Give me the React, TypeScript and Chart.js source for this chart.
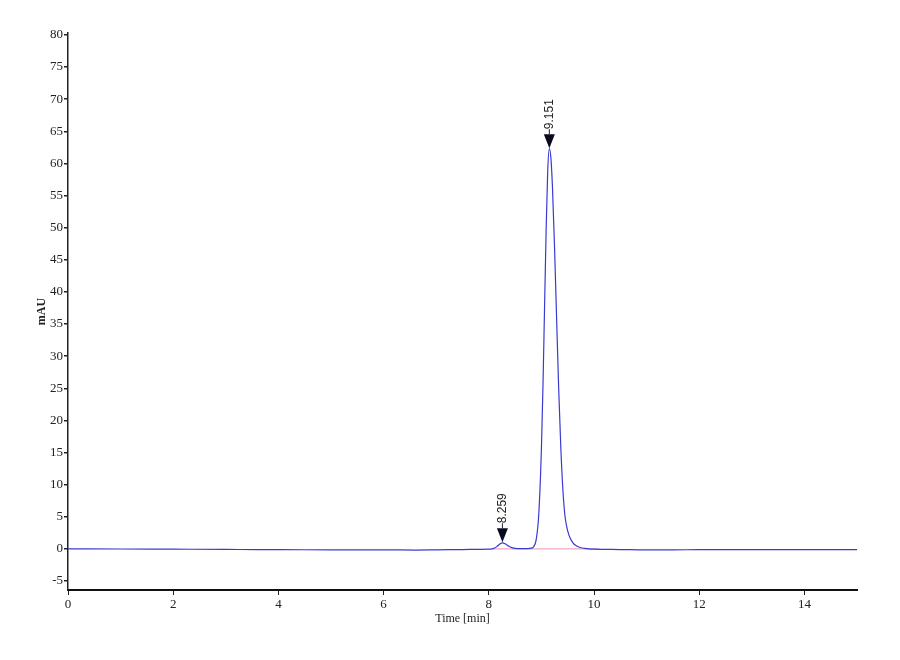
import React, { useEffect, useRef } from "react";
import { Chart, registerables } from "chart.js";

Chart.register(...registerables);

// Retention time (min)
const timeMin: number[] = [
  0, 1, 2, 3, 3.6, 4, 5, 6, 6.6, 7,
  7.5, 7.8, 8.0, 8.06, 8.1, 8.15, 8.2, 8.259, 8.32, 8.38,
  8.44, 8.5, 8.58, 8.66, 8.72, 8.78, 8.82, 8.85, 8.9, 8.95,
  9.0, 9.03, 9.06, 9.09, 9.12, 9.151, 9.18, 9.21, 9.25, 9.29,
  9.33, 9.37, 9.41, 9.45, 9.5, 9.55, 9.6, 9.65, 9.7, 9.75,
  9.82, 9.9, 10.0, 10.5, 11, 11.5, 12, 12.5, 13, 14,
  15,
];

// Detector signal (mAU)
const signalMAU: number[] = [
  0.0, -0.02, -0.05, -0.08, -0.12, -0.12, -0.15, -0.15, -0.18, -0.15,
  -0.1, -0.08, -0.05, 0.0, 0.1, 0.35, 0.7, 0.95, 0.75, 0.42,
  0.2, 0.08, 0.03, 0.03, 0.05, 0.08, 0.15, 0.3, 1.4, 5.4,
  15.5, 25.4, 37.6, 49.6, 58.8, 62.3, 60.9, 56.4, 46.9, 35.6,
  24.6, 15.6, 9.0, 5.0, 2.8, 1.6, 0.95, 0.55, 0.32, 0.18,
  0.08, 0.0, -0.05, -0.1, -0.15, -0.15, -0.12, -0.12, -0.1, -0.1,
  -0.1,
];

// Integration baseline
const baselineTime: number[] = [8.08, 10.1];
const baselineMAU: number[] = [0, 0];

// Peak annotations
const peakTimes: number[] = [8.259, 9.151];
const peakLabels: string[] = ["8.259", "9.151"];

// Axis ticks
const xTickStep = 2;
const yTickStep = 5;
const xMin = 0;
const xMax = 15;
const yMin = -6.4;
const yMax = 80.3;

const peakMarkers = {
  id: "peakMarkers",
  afterDatasetsDraw(chart: any) {
    const { ctx, scales } = chart;
    const xs = scales.x;
    const ys = scales.y;
    peakTimes.forEach((t, i) => {
      const idx = timeMin.indexOf(t);
      const v = idx >= 0 ? signalMAU[idx] : 0;
      const px = xs.getPixelForValue(t);
      const tipY = ys.getPixelForValue(v) - 0.5;
      const triH = 14;
      const triW = 11;
      ctx.save();
      ctx.fillStyle = "#0a0a1e";
      ctx.beginPath();
      ctx.moveTo(px, tipY);
      ctx.lineTo(px - triW / 2, tipY - triH);
      ctx.lineTo(px + triW / 2, tipY - triH);
      ctx.closePath();
      ctx.fill();
      ctx.strokeStyle = "#222244";
      ctx.lineWidth = 1;
      ctx.beginPath();
      ctx.moveTo(px, tipY - triH);
      ctx.lineTo(px, tipY - triH - 5);
      ctx.stroke();
      ctx.translate(px, tipY - triH - 5);
      ctx.rotate(-Math.PI / 2);
      ctx.font = '12px "Liberation Sans", Arial, sans-serif';
      ctx.fillStyle = "#222";
      ctx.textAlign = "left";
      ctx.textBaseline = "middle";
      ctx.fillText(peakLabels[i], 0, 0);
      ctx.restore();
    });
  },
};

export default function App() {
  const canvasRef = useRef<HTMLCanvasElement | null>(null);

  useEffect(() => {
    if (!canvasRef.current) return;
    const serif = '"Liberation Serif", "Times New Roman", serif';
    const chart = new Chart(canvasRef.current, {
      type: "line",
      data: {
        datasets: [
          {
            label: "Signal",
            data: timeMin.map((t, i) => ({ x: t, y: signalMAU[i] })),
            borderColor: "#3a3ad2",
            borderWidth: 1.2,
            pointRadius: 0,
            cubicInterpolationMode: "monotone",
            fill: false,
          },
          {
            label: "Baseline",
            data: baselineTime.map((t, i) => ({ x: t, y: baselineMAU[i] })),
            borderColor: "#f4a6c8",
            borderWidth: 1.2,
            pointRadius: 0,
            fill: false,
          },
        ],
      },
      options: {
        animation: false,
        responsive: false,
        devicePixelRatio: 1,
        layout: { padding: { left: 0, right: 43, top: 33, bottom: 0 } },
        plugins: {
          legend: { display: false },
          tooltip: { enabled: false },
        },
        scales: {
          x: {
            type: "linear",
            min: xMin,
            max: xMax,
            ticks: {
              stepSize: xTickStep,
              includeBounds: false,
              maxRotation: 0,
              padding: 2,
              color: "#222",
              font: { family: serif, size: 13 },
            },
            grid: {
              drawOnChartArea: false,
              drawTicks: true,
              tickLength: 5,
              color: "#222",
              lineWidth: 1,
            },
            border: { display: true, color: "#111", width: 2 },
            title: {
              display: true,
              text: "Time [min]",
              color: "#222",
              font: { family: serif, size: 12 },
              padding: { top: 0, bottom: 34 },
            },
            afterFit: (scale: any) => {
              scale.height = 70;
            },
          },
          y: {
            type: "linear",
            min: yMin,
            max: yMax,
            ticks: {
              stepSize: yTickStep,
              includeBounds: false,
              padding: 1,
              color: "#222",
              font: { family: serif, size: 13 },
            },
            grid: {
              drawOnChartArea: false,
              drawTicks: true,
              tickLength: 4,
              color: "#222",
              lineWidth: 1.5,
            },
            border: { display: true, color: "#222", width: 1.5 },
            title: {
              display: true,
              text: "mAU",
              color: "#222",
              font: { family: serif, size: 12, weight: "bold" },
              padding: { top: 35, bottom: 0 },
            },
            afterFit: (scale: any) => {
              scale.width = 68;
            },
          },
        },
      },
      plugins: [peakMarkers],
    } as any);
    return () => chart.destroy();
  }, []);

  return (
    <div style={{ position: "absolute", left: 0, top: 0, width: 900, height: 660, background: "#fff" }}>
      <canvas ref={canvasRef} width={900} height={660} style={{ width: 900, height: 660, display: "block" }} />
    </div>
  );
}
